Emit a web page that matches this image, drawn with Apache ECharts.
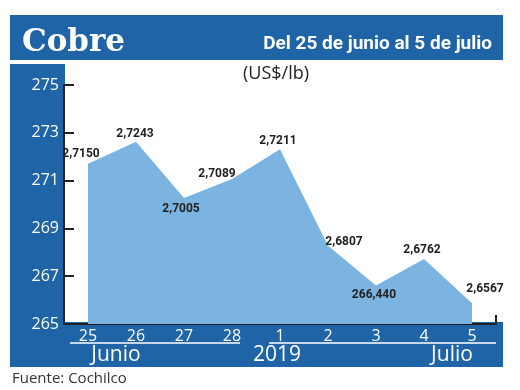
<!DOCTYPE html>
<html>
<head>
<meta charset="utf-8">
<script src="https://cdn.jsdelivr.net/npm/echarts@6/dist/echarts.min.js"></script>
<style>html,body{margin:0;padding:0;background:#fff}#c{width:520px;height:390px}</style>
</head>
<body>
<div id="c"></div>
<script>
// ---- data ----
const categories = ['25','26','27','28','1','2','3','4','5'];
const values = [271.71, 272.63, 270.27, 271.07, 272.31, 268.27, 266.61, 267.72, 265.87];
const valueLabels = ['2,7150','2,7243','2,7005','2,7089','2,7211','2,6807','266,440','2,6762','2,6567'];
const yTicks = [265, 267, 269, 271, 273, 275];
const monthLabels = ['Junio', '2019', 'Julio'];

// ---- styles ----
const labelOffsets = [[-7,-10],[-1,-8],[-3,11],[-15,-5],[-2,-8],[16,-4],[-2,9],[-2,-9],[13,-14]];
const BLUE = '#1e64a7';
const AREA = '#7bb4e1';
const SANS = "'Open Sans',sans-serif";

const chart = echarts.init(document.getElementById('c'), null, {renderer:'canvas'});
const seriesData = values.map((v, i) => ({
  value: v,
  label: {formatter: valueLabels[i], offset: labelOffsets[i]}
}));

chart.setOption({
  animation: false,
  title: [
    {text: 'Cobre', left: 22, top: 27, padding: 0, textStyle: {color:'#fff', fontFamily:"'DejaVu Serif',serif", fontSize: 31, fontWeight: 'bold'}},
    {text: 'Del 25 de junio al 5 de julio', right: 28, top: 35, padding: 0, textStyle: {color:'#fff', fontFamily:"Roboto,sans-serif", fontSize: 19, fontWeight: 'bold'}},
    {text: '(US$/lb)', left: 243, top: 65, padding: 0, textStyle: {color:'#222', fontFamily:SANS, fontSize: 18, fontWeight: 'normal'}},
    {text: 'Fuente: Cochilco', left: 12, top: 371, padding: 0, textStyle: {color:'#333', fontFamily:SANS, fontSize: 15, fontWeight: 'normal'}},
    {text: monthLabels[0], left: 116, top: 345, padding: 0, textAlign:'center', textStyle: {color:'#fff', fontFamily:SANS, fontSize: 21, fontWeight: 'normal'}},
    {text: monthLabels[1], left: 277, top: 345, padding: 0, textAlign:'center', textStyle: {color:'#fff', fontFamily:SANS, fontSize: 21, fontWeight: 'normal'}},
    {text: monthLabels[2], left: 452, top: 345, padding: 0, textAlign:'center', textStyle: {color:'#fff', fontFamily:SANS, fontSize: 21, fontWeight: 'normal'}}
  ],
  graphic: [
    {type:'rect', z:-10, shape:{x:10, y:15, width:493, height:45}, style:{fill:BLUE}},
    {type:'rect', z:-10, shape:{x:10, y:64, width:55, height:303}, style:{fill:BLUE}},
    {type:'rect', z:-10, shape:{x:10, y:322, width:493, height:45}, style:{fill:BLUE}},
    {type:'line', z:5, shape:{x1:70, y1:343, x2:240, y2:343}, style:{stroke:'#fff', lineWidth:1.5}},
    {type:'line', z:5, shape:{x1:269, y1:343, x2:496, y2:343}, style:{stroke:'#fff', lineWidth:1.5}},
    {type:'line', z:5, shape:{x1:496, y1:315, x2:496, y2:324}, style:{stroke:'#222', lineWidth:2}}
  ],
  grid: {left: 64, right: 24, top: 85, bottom: 66, containLabel: false},
  xAxis: {
    type: 'category', data: categories, boundaryGap: true,
    axisLine: {show: true, lineStyle: {color:'#222', width: 2}},
    axisTick: {show: false},
    axisLabel: {color:'#fff', fontSize: 16, margin: 4, fontFamily:SANS},
    splitLine: {show: false}
  },
  yAxis: {
    type: 'value', min: 265, max: 275, interval: 2,
    axisLine: {show: true, lineStyle: {color:'#222', width: 2}},
    axisTick: {show: true, inside: true, length: 10, lineStyle: {color:'#222', width: 2}},
    axisLabel: {color:'#fff', fontSize: 16, margin: 5, fontFamily:SANS,
      formatter: v => yTicks.includes(v) ? String(v) : ''},
    splitLine: {show: false}
  },
  series: [{
    type: 'line', data: seriesData,
    symbol: 'circle', symbolSize: 2, showSymbol: true,
    itemStyle: {color: 'rgba(0,0,0,0)', borderWidth: 0},
    lineStyle: {width: 0, color: AREA},
    areaStyle: {color: AREA, opacity: 1, origin: 'start'},
    label: {show: true, position: 'inside', align:'center', verticalAlign:'middle',
      color:'#222', fontSize: 12, fontWeight: 'bold', fontFamily: "Roboto,sans-serif"},
    z: 2
  }]
});
</script>
</body>
</html>
